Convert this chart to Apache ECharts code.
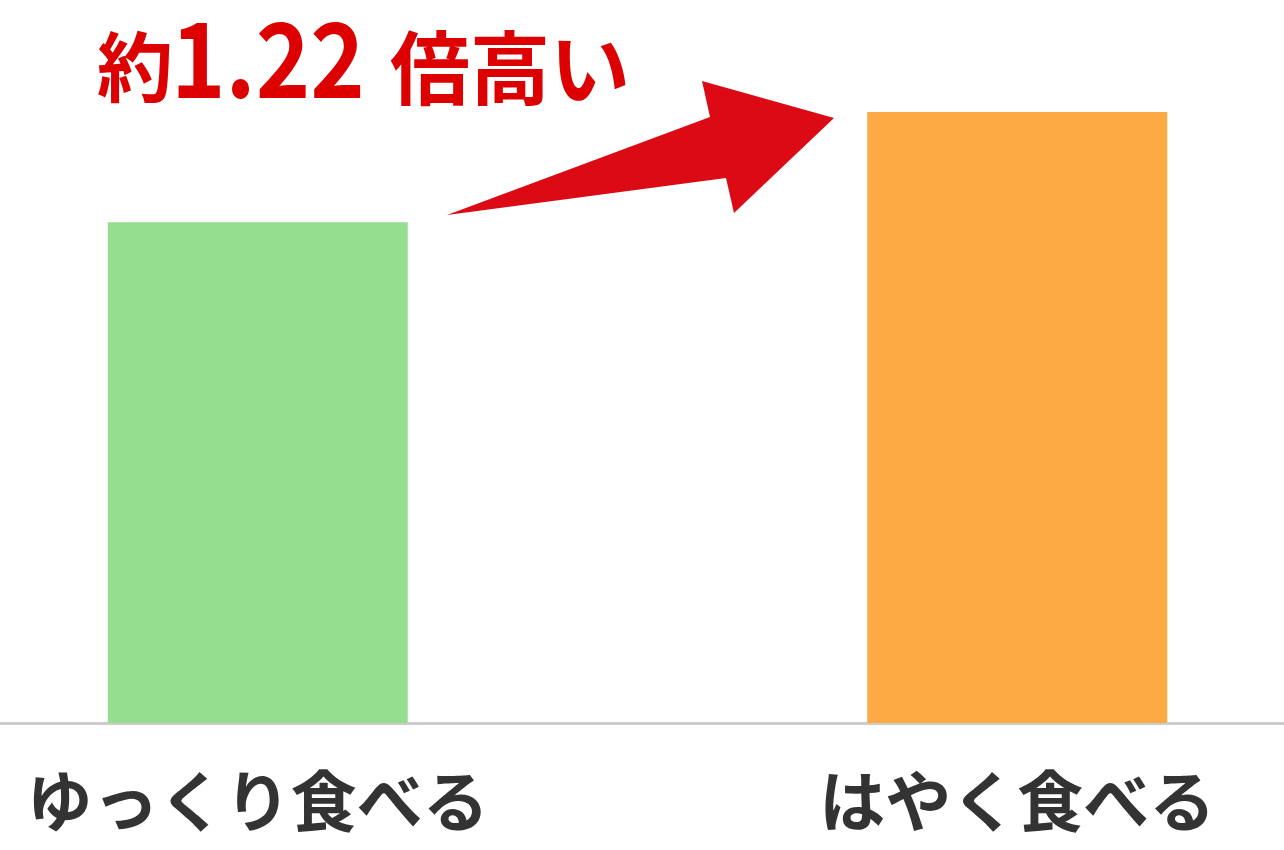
<!DOCTYPE html>
<html>
<head>
<meta charset="utf-8">
<script src="https://cdn.jsdelivr.net/npm/echarts@6/dist/echarts.min.js"></script>
<style>
html,body{margin:0;padding:0;background:#fff;}
#main{width:1284px;height:850px;}
</style>
</head>
<body>
<div id="main"></div>
<script>
var categories = ['ゆっくり食べる', 'はやく食べる'];
var values = [100, 122];
var barColors = ['#95dd8f', '#fdaa44'];
var titleParts = ['約', '1.22', '倍高い'];

var chart = echarts.init(document.getElementById('main'));
var FONT = '"Noto Sans CJK JP", "Noto Sans", sans-serif';

chart.setOption({
  animation: false,
  backgroundColor: '#ffffff',
  grid: { left: -122, right: -113, top: 112, bottom: 127, containLabel: false, outerBoundsMode: 'none' },
  xAxis: {
    type: 'category',
    data: categories,
    axisTick: { show: false },
    axisLine: { show: true, lineStyle: { color: '#cccccc', width: 3 } },
    axisLabel: {
      margin: 45,
      fontSize: 66,
      fontWeight: 'bold',
      color: '#333333',
      fontFamily: FONT
    }
  },
  yAxis: {
    type: 'value',
    min: 0,
    max: 122,
    show: false,
    splitLine: { show: false }
  },
  series: [{
    type: 'bar',
    barWidth: 300,
    data: values.map(function (v, i) {
      return { value: v, itemStyle: { color: barColors[i] } };
    })
  }],
  graphic: [
    {
      type: 'polygon',
      shape: { points: [[447, 215], [710, 117], [702, 81], [834, 118], [734, 213], [726, 178]] },
      style: { fill: '#dc0a14' }
    },
    {
      type: 'text', x: 97, y: 67.5,
      style: { text: titleParts[0], fill: '#dd0000', font: 'bold 76px ' + FONT, verticalAlign: 'middle', align: 'left' }
    },
    {
      type: 'text', x: 171, y: 58, scaleX: 0.89,
      style: { text: titleParts[1], fill: '#dd0000', font: 'bold 104px ' + FONT, verticalAlign: 'middle', align: 'left' }
    },
    {
      type: 'text', x: 390, y: 67.5,
      style: { text: titleParts[2], fill: '#dd0000', font: 'bold 80px ' + FONT, verticalAlign: 'middle', align: 'left' }
    }
  ]
});
</script>
</body>
</html>
